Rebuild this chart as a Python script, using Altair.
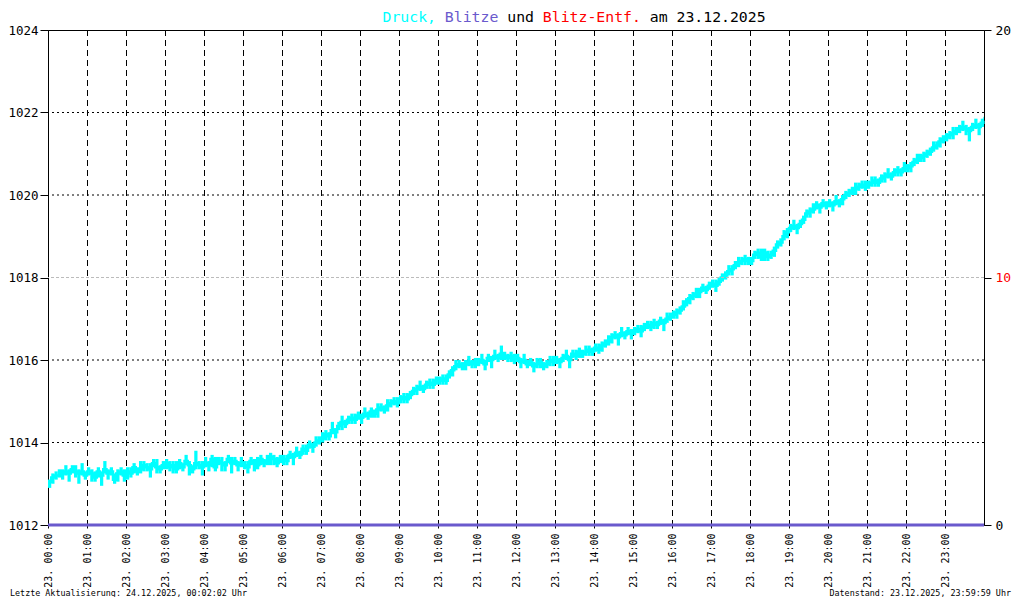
import altair as alt
import pandas as pd

# ---------------- data ----------------
hour_labels = [f"23. {h:02d}:00" for h in range(24)]
tick_minutes = [h * 60 for h in range(24)]
grid_minutes = [h * 60 for h in range(1, 24)]

# air pressure (hPa), typical reading for every 5-minute interval, plus the last reading at 23:59
pressure_hpa = [
    1013.05, 1013.15, 1013.2, 1013.2, 1013.25, 1013.3, 1013.25, 1013.35, 1013.3, 1013.25, 1013.3, 1013.2,
    1013.3, 1013.25, 1013.15, 1013.3, 1013.2, 1013.35, 1013.25, 1013.3, 1013.1, 1013.25, 1013.3, 1013.2,
    1013.3, 1013.25, 1013.4, 1013.3, 1013.35, 1013.45, 1013.4, 1013.35, 1013.5, 1013.4, 1013.35, 1013.45,
    1013.5, 1013.4, 1013.45, 1013.35, 1013.5, 1013.4, 1013.55, 1013.45, 1013.35, 1013.5, 1013.45, 1013.4,
    1013.5, 1013.45, 1013.6, 1013.4, 1013.55, 1013.5, 1013.45, 1013.6, 1013.5, 1013.55, 1013.45, 1013.5,
    1013.45, 1013.4, 1013.55, 1013.5, 1013.45, 1013.6, 1013.5, 1013.55, 1013.65, 1013.6, 1013.5, 1013.6,
    1013.6, 1013.55, 1013.7, 1013.65, 1013.75, 1013.7, 1013.85, 1013.8, 1013.95, 1013.9, 1014.0, 1014.05,
    1014.1, 1014.2, 1014.15, 1014.3, 1014.25, 1014.4, 1014.5, 1014.45, 1014.55, 1014.6, 1014.55, 1014.65,
    1014.6, 1014.7, 1014.65, 1014.75, 1014.7, 1014.8, 1014.85, 1014.8, 1014.9, 1014.95, 1015.0, 1014.95,
    1015.05, 1015.1, 1015.05, 1015.15, 1015.25, 1015.3, 1015.35, 1015.3, 1015.4, 1015.45, 1015.4, 1015.5,
    1015.5, 1015.55, 1015.5, 1015.65, 1015.75, 1015.85, 1015.9, 1015.85, 1015.9, 1015.95, 1015.9, 1015.95,
    1015.95, 1016.0, 1015.9, 1016.05, 1016.0, 1016.1, 1016.05, 1016.15, 1016.1, 1016.05, 1016.1, 1016.0,
    1016.05, 1015.95, 1016.0, 1015.9, 1015.95, 1015.85, 1015.9, 1015.95, 1015.85, 1015.9, 1015.95, 1016.0,
    1016.0, 1015.95, 1016.05, 1016.1, 1016.0, 1016.15, 1016.1, 1016.2, 1016.15, 1016.2, 1016.25, 1016.2,
    1016.3, 1016.25, 1016.35, 1016.4, 1016.45, 1016.55, 1016.6, 1016.55, 1016.65, 1016.6, 1016.7, 1016.65,
    1016.7, 1016.75, 1016.7, 1016.8, 1016.85, 1016.8, 1016.9, 1016.85, 1016.95, 1016.9, 1017.0, 1017.05,
    1017.1, 1017.15, 1017.2, 1017.3, 1017.4, 1017.5, 1017.55, 1017.6, 1017.65, 1017.75, 1017.7, 1017.8,
    1017.85, 1017.8, 1017.9, 1018.0, 1018.05, 1018.15, 1018.2, 1018.3, 1018.35, 1018.4, 1018.45, 1018.4,
    1018.4, 1018.55, 1018.6, 1018.5, 1018.6, 1018.5, 1018.55, 1018.65, 1018.8, 1018.85, 1019.0, 1019.1,
    1019.2, 1019.25, 1019.2, 1019.3, 1019.4, 1019.55, 1019.6, 1019.65, 1019.75, 1019.7, 1019.8, 1019.75,
    1019.8, 1019.75, 1019.85, 1019.8, 1019.9, 1020.0, 1020.05, 1020.1, 1020.15, 1020.2, 1020.25, 1020.2,
    1020.25, 1020.3, 1020.35, 1020.3, 1020.4, 1020.45, 1020.5, 1020.45, 1020.55, 1020.6, 1020.55, 1020.65,
    1020.65, 1020.7, 1020.8, 1020.85, 1020.9, 1020.95, 1021.0, 1021.05, 1021.15, 1021.2, 1021.3, 1021.35,
    1021.4, 1021.45, 1021.5, 1021.55, 1021.6, 1021.65, 1021.6, 1021.55, 1021.65, 1021.7, 1021.65, 1021.75,
    1021.8,
]
pressure_minutes = list(range(0, 1440, 5)) + [1439]

# how far the 1-minute readings fell below / rose above that value within each 5-minute interval (hPa)
swing_down = [
    0.15, 0.15, 0.1, 0.05, 0.15, 0.1, 0.2, 0.1, 0.15, 0.25, 0.1, 0.1,
    0.1, 0.2, 0.1, 0.15, 0.25, 0.1, 0.15, 0.1, 0.1, 0.2, 0.1, 0.15,
    0.2, 0.1, 0.15, 0.1, 0.1, 0.15, 0.1, 0.2, 0.1, 0.15, 0.1, 0.1,
    0.15, 0.1, 0.2, 0.1, 0.15, 0.1, 0.1, 0.25, 0.1, 0.15, 0.1, 0.2,
    0.1, 0.15, 0.2, 0.1, 0.1, 0.2, 0.15, 0.1, 0.25, 0.1, 0.15, 0.1,
    0.1, 0.15, 0.1, 0.2, 0.1, 0.15, 0.1, 0.1, 0.2, 0.15, 0.1, 0.1,
    0.15, 0.1, 0.1, 0.2, 0.1, 0.1, 0.15, 0.1, 0.1, 0.15, 0.1, 0.1,
    0.1, 0.15, 0.1, 0.1, 0.15, 0.1, 0.2, 0.1, 0.1, 0.15, 0.1, 0.1,
    0.15, 0.1, 0.1, 0.15, 0.1, 0.2, 0.1, 0.1, 0.15, 0.1, 0.1, 0.1,
    0.1, 0.15, 0.1, 0.1, 0.1, 0.15, 0.1, 0.1, 0.1, 0.15, 0.1, 0.1,
    0.1, 0.15, 0.1, 0.1, 0.15, 0.1, 0.1, 0.1, 0.15, 0.1, 0.1, 0.15,
    0.1, 0.1, 0.15, 0.1, 0.2, 0.1, 0.1, 0.15, 0.1, 0.1, 0.15, 0.1,
    0.1, 0.15, 0.1, 0.1, 0.1, 0.15, 0.1, 0.15, 0.1, 0.1, 0.1, 0.15,
    0.1, 0.15, 0.1, 0.1, 0.2, 0.1, 0.1, 0.15, 0.1, 0.1, 0.15, 0.1,
    0.1, 0.1, 0.15, 0.1, 0.1, 0.15, 0.1, 0.2, 0.1, 0.1, 0.1, 0.15,
    0.1, 0.1, 0.15, 0.1, 0.1, 0.1, 0.15, 0.1, 0.1, 0.2, 0.1, 0.1,
    0.1, 0.15, 0.1, 0.1, 0.1, 0.15, 0.1, 0.1, 0.15, 0.1, 0.1, 0.1,
    0.1, 0.15, 0.1, 0.1, 0.1, 0.1, 0.15, 0.1, 0.1, 0.1, 0.15, 0.1,
    0.1, 0.1, 0.15, 0.1, 0.2, 0.1, 0.1, 0.15, 0.1, 0.1, 0.1, 0.15,
    0.1, 0.1, 0.15, 0.1, 0.1, 0.1, 0.15, 0.1, 0.1, 0.15, 0.1, 0.1,
    0.1, 0.15, 0.1, 0.1, 0.15, 0.1, 0.1, 0.1, 0.15, 0.1, 0.1, 0.1,
    0.1, 0.1, 0.15, 0.1, 0.1, 0.15, 0.1, 0.1, 0.1, 0.15, 0.1, 0.1,
    0.1, 0.15, 0.1, 0.1, 0.1, 0.15, 0.1, 0.1, 0.1, 0.1, 0.15, 0.1,
    0.1, 0.1, 0.15, 0.1, 0.1, 0.1, 0.15, 0.25, 0.1, 0.1, 0.2, 0.1,
    0.1,
]
swing_up = [
    0.05, 0.1, 0.1, 0.15, 0.1, 0.15, 0.1, 0.1, 0.15, 0.1, 0.2, 0.1,
    0.1, 0.1, 0.15, 0.1, 0.1, 0.2, 0.1, 0.1, 0.15, 0.1, 0.1, 0.15,
    0.1, 0.15, 0.1, 0.1, 0.2, 0.1, 0.1, 0.15, 0.1, 0.2, 0.1, 0.1,
    0.1, 0.15, 0.1, 0.2, 0.1, 0.1, 0.15, 0.1, 0.1, 0.3, 0.1, 0.15,
    0.15, 0.1, 0.1, 0.25, 0.1, 0.15, 0.1, 0.1, 0.15, 0.1, 0.1, 0.15,
    0.1, 0.15, 0.1, 0.1, 0.2, 0.1, 0.1, 0.15, 0.1, 0.1, 0.15, 0.1,
    0.1, 0.15, 0.1, 0.1, 0.15, 0.1, 0.1, 0.15, 0.1, 0.1, 0.15, 0.1,
    0.15, 0.1, 0.1, 0.2, 0.1, 0.1, 0.15, 0.1, 0.1, 0.1, 0.15, 0.1,
    0.1, 0.15, 0.1, 0.1, 0.1, 0.15, 0.1, 0.1, 0.15, 0.1, 0.1, 0.15,
    0.1, 0.1, 0.15, 0.1, 0.1, 0.1, 0.15, 0.1, 0.1, 0.1, 0.15, 0.1,
    0.1, 0.1, 0.15, 0.1, 0.1, 0.15, 0.1, 0.1, 0.1, 0.15, 0.1, 0.1,
    0.1, 0.15, 0.1, 0.1, 0.1, 0.15, 0.1, 0.2, 0.1, 0.1, 0.1, 0.15,
    0.1, 0.1, 0.15, 0.1, 0.1, 0.1, 0.15, 0.1, 0.1, 0.1, 0.15, 0.1,
    0.1, 0.1, 0.1, 0.15, 0.1, 0.1, 0.15, 0.1, 0.1, 0.15, 0.1, 0.1,
    0.1, 0.15, 0.1, 0.1, 0.15, 0.1, 0.1, 0.1, 0.15, 0.1, 0.1, 0.1,
    0.1, 0.1, 0.15, 0.1, 0.1, 0.15, 0.1, 0.1, 0.1, 0.1, 0.15, 0.1,
    0.1, 0.1, 0.1, 0.15, 0.1, 0.1, 0.1, 0.15, 0.1, 0.1, 0.1, 0.1,
    0.1, 0.15, 0.1, 0.1, 0.1, 0.15, 0.1, 0.1, 0.15, 0.1, 0.1, 0.1,
    0.1, 0.1, 0.1, 0.2, 0.1, 0.15, 0.1, 0.1, 0.1, 0.1, 0.15, 0.1,
    0.1, 0.15, 0.1, 0.1, 0.1, 0.1, 0.1, 0.15, 0.1, 0.1, 0.1, 0.1,
    0.1, 0.1, 0.15, 0.1, 0.1, 0.1, 0.1, 0.1, 0.15, 0.1, 0.1, 0.15,
    0.1, 0.15, 0.1, 0.1, 0.1, 0.1, 0.15, 0.1, 0.1, 0.1, 0.1, 0.15,
    0.1, 0.1, 0.1, 0.15, 0.1, 0.1, 0.1, 0.1, 0.15, 0.1, 0.1, 0.1,
    0.1, 0.1, 0.15, 0.1, 0.1, 0.15, 0.1, 0.1, 0.1, 0.15, 0.1, 0.1,
    0.1,
]

left_ticks = [1012, 1014, 1016, 1018, 1020, 1022, 1024]
left_grid = [1014, 1016, 1020, 1022]
right_ticks = [0, 10, 20]
right_grid = [10]
blitze_minutes = [0, 1440]
blitze_count = [0, 0]

title_segments = ["Druck,", "Blitze", "und", "Blitz-Entf.", "am 23.12.2025"]
title_colors = ["#00ffff", "#6a5acd", "#000000", "#ff0000", "#000000"]
footer_left = "Letzte Aktualisierung: 24.12.2025, 00:02:02 Uhr"
footer_right = "Datenstand: 23.12.2025, 23:59:59 Uhr"

# ---------------- chart ----------------
FONT = "DejaVu Sans Mono"
W, H = 936, 495

df_p = pd.DataFrame({
    "min": pressure_minutes,
    "min_end": [min(m + 5, 1440) for m in pressure_minutes],
    "p": pressure_hpa,
    "lo": [p - d for p, d in zip(pressure_hpa, swing_down)],
    "hi": [p + u for p, u in zip(pressure_hpa, swing_up)],
})
df_vgrid = pd.DataFrame({"min": grid_minutes})
df_hgrid = pd.DataFrame({"p": left_grid})
df_rgrid = pd.DataFrame({"b": right_grid})
df_b = pd.DataFrame({"min": blitze_minutes, "b": blitze_count})

label_array = "[" + ",".join(f"'{s}'" for s in hour_labels) + "]"
x_scale = alt.Scale(domain=[0, 1440], nice=False, zero=False)
x_axis = alt.Axis(
    values=tick_minutes, labelExpr=f"{label_array}[round(datum.value/60)]",
    labelAngle=270, labelAlign="right", labelBaseline="middle", labelPadding=5,
    tickSize=3, labelFont=FONT, labelFontSize=10, labelColor="black",
    labelFlush=False, labelOverlap=False, grid=False, domain=False, title=None,
)
yl_scale = alt.Scale(domain=[1012, 1024], nice=False, zero=False)
yl_axis = alt.Axis(
    values=left_ticks, format="d", tickSize=8, labelPadding=2, labelFont=FONT, labelFontSize=12.5,
    labelColor="black", grid=False, domain=True, domainColor="black", title=None,
    labelFlush=False, labelOverlap=False,
)
yr_scale = alt.Scale(domain=[0, 20], nice=False, zero=False)
yr_axis = alt.Axis(
    orient="right", values=right_ticks, format="d", tickSize=7, labelPadding=4, labelFont=FONT,
    labelFontSize=13, grid=False, domain=True, domainColor="black", title=None,
    labelFlush=False, labelOverlap=False,
    labelColor=alt.ConditionalAxisColor(condition={"test": "datum.value == 10", "value": "#ff0000"}, value="#000000"),
)

vgrid = alt.Chart(df_vgrid).mark_rule(color="black", strokeWidth=1, strokeDash=[6, 4], xOffset=0.5).encode(
    x=alt.X("min:Q", scale=x_scale, axis=x_axis)
)
hgrid = alt.Chart(df_hgrid).mark_rule(color="black", strokeWidth=1, strokeDash=[2, 3]).encode(
    y=alt.Y("p:Q", scale=yl_scale, axis=yl_axis)
)
band = alt.Chart(df_p).mark_rect(color="#00ffff").encode(
    x=alt.X("min:Q", scale=x_scale, axis=x_axis),
    x2="min_end:Q",
    y=alt.Y("lo:Q", scale=yl_scale, axis=yl_axis),
    y2="hi:Q",
)
line = alt.Chart(df_p).mark_line(color="#00ffff", strokeWidth=2.5, interpolate="step-after").encode(
    x=alt.X("min:Q", scale=x_scale, axis=x_axis),
    y=alt.Y("p:Q", scale=yl_scale, axis=yl_axis),
)
left = alt.layer(vgrid, hgrid, band, line)

rgrid = alt.Chart(df_rgrid).mark_rule(color="#bbbbbb", strokeWidth=1, strokeDash=[3, 2]).encode(
    y=alt.Y("b:Q", scale=yr_scale, axis=yr_axis)
)
blitz = alt.Chart(df_b).mark_line(color="#6a5acd", strokeWidth=3).encode(
    x=alt.X("min:Q", scale=x_scale, axis=x_axis),
    y=alt.Y("b:Q", scale=yr_scale, axis=yr_axis),
)
right = alt.layer(rgrid, blitz)

# title segments, laid out as monospace text
TITLE_SIZE = 14.8
CHAR_W = TITLE_SIZE * 0.602
title_x0 = 334.5
texts = []
idx = 0
for seg, col in zip(title_segments, title_colors):
    texts.append(
        alt.Chart(pd.DataFrame({"t": [seg]})).mark_text(
            font=FONT, fontSize=TITLE_SIZE, align="left", baseline="alphabetic", color=col
        ).encode(text="t:N", x=alt.value(title_x0 + idx * CHAR_W), y=alt.value(-8))
    )
    idx += len(seg) + 1

texts.append(
    alt.Chart(pd.DataFrame({"t": [footer_left]})).mark_text(
        font=FONT, fontSize=8.4, align="left", baseline="middle", color="black"
    ).encode(text="t:N", x=alt.value(-38), y=alt.value(563))
)
texts.append(
    alt.Chart(pd.DataFrame({"t": [footer_right]})).mark_text(
        font=FONT, fontSize=8.4, align="right", baseline="middle", color="black"
    ).encode(text="t:N", x=alt.value(963), y=alt.value(563))
)

chart = alt.layer(left, right, *texts).resolve_scale(y="independent").properties(
    width=W, height=H,
    padding={"left": 40, "top": 22, "right": 28, "bottom": 72},
    autosize=alt.AutoSizeParams(type="none"),
    background="white",
).configure_view(stroke="black", strokeWidth=1).configure_axis(
    tickColor="black", tickWidth=1, domainWidth=1
)

chart.save("out.html", embed_options={"renderer": "svg", "actions": False})
